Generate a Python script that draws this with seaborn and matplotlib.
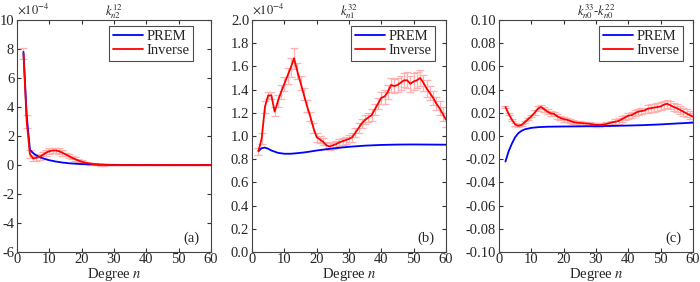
import numpy as np
import pandas as pd
import matplotlib
matplotlib.use("Agg")
import matplotlib.pyplot as plt
import seaborn as sns

# Degrees of the inverted coefficients
degrees = list(range(2, 61))

# Panel (a): k_n2^12 (units of 1e-4)
inv_a = [7.7, 3.0, 0.75, 0.45, 0.5, 0.55, 0.7, 0.85, 0.95, 1.0,
         1.0, 0.95, 0.85, 0.74, 0.62, 0.5, 0.4, 0.31, 0.23, 0.17,
         0.12, 0.08, 0.05, 0.03, 0.02, 0.01] + [0.0] * 33
err_a = [0.4, 0.45, 0.3] + [0.2] * 10 + [0.12] * 6 + [0.06] * 7 + [0.02] * 33
prem_deg_a = [2, 3, 4, 5, 6, 7, 8, 9, 10, 12, 14, 16, 18, 20, 25, 30, 35, 40, 50, 60]
prem_a = [7.8, 3.4, 1.05, 0.82, 0.66, 0.55, 0.46, 0.39, 0.33, 0.24,
          0.17, 0.12, 0.09, 0.06, 0.03, 0.01, 0.005, 0.0, 0.0, 0.0]

# Panel (b): k_n1^32 (units of 1e-4)
inv_b = [0.87, 0.98, 1.25, 1.35, 1.35, 1.21, 1.30, 1.38, 1.45, 1.52,
         1.59, 1.67, 1.56, 1.46, 1.36, 1.26, 1.17, 1.07, 0.99, 0.97,
         0.95, 0.92, 0.91, 0.92, 0.93, 0.945, 0.955, 0.965, 0.975, 0.99,
         1.03, 1.07, 1.11, 1.14, 1.16, 1.18, 1.23, 1.28, 1.33, 1.34,
         1.38, 1.44, 1.43, 1.44, 1.46, 1.48, 1.48, 1.45, 1.47, 1.48,
         1.50, 1.46, 1.41, 1.37, 1.33, 1.28, 1.24, 1.19, 1.14]
err_b = [0.03, 0.05, 0.05, 0.03, 0.03, 0.04, 0.05, 0.06, 0.06, 0.07,
         0.08, 0.09, 0.07, 0.06, 0.05, 0.05, 0.04, 0.04, 0.04, 0.03,
         0.03, 0.03, 0.03, 0.03, 0.03, 0.03, 0.03, 0.03, 0.03, 0.04,
         0.04, 0.04, 0.04, 0.04, 0.04, 0.05, 0.05, 0.05, 0.05, 0.06,
         0.06, 0.06, 0.06, 0.06, 0.06, 0.06, 0.07, 0.07, 0.07, 0.07,
         0.07, 0.07, 0.07, 0.06, 0.06, 0.06, 0.06, 0.06, 0.06]
prem_deg_b = [2, 3, 4, 5, 6, 8, 10, 12, 14, 16, 18, 20, 25, 30, 35, 40, 45, 50, 55, 60]
prem_b = [0.87, 0.895, 0.90, 0.89, 0.875, 0.855, 0.847, 0.847, 0.852, 0.858,
          0.866, 0.875, 0.893, 0.907, 0.917, 0.923, 0.926, 0.927, 0.926, 0.925]

# Panel (c): k_n0^33 - k_n0^22
inv_c = [0.025, 0.019, 0.014, 0.010, 0.0088, 0.0095, 0.012, 0.0145, 0.017, 0.020,
         0.0235, 0.025, 0.023, 0.021, 0.0195, 0.019, 0.017, 0.0155, 0.0145, 0.014,
         0.013, 0.012, 0.0115, 0.0113, 0.011, 0.0108, 0.0105, 0.010, 0.0096, 0.0095,
         0.0097, 0.0102, 0.011, 0.0118, 0.0123, 0.013, 0.0145, 0.016, 0.0175, 0.018,
         0.0195, 0.021, 0.0215, 0.022, 0.0235, 0.024, 0.0245, 0.025, 0.0255, 0.027,
         0.0278, 0.0265, 0.025, 0.024, 0.0225, 0.021, 0.0195, 0.018, 0.0167]
err_c = [0.001] * 9 + [0.002] * 10 + [0.0015] * 15 + [0.0025] * 10 + [0.0035] * 15
prem_deg_c = [2, 3, 4, 5, 6, 7, 8, 10, 12, 15, 20, 25, 30, 35, 40, 45, 50, 55, 60]
prem_c = [-0.022, -0.013, -0.0065, -0.001, 0.0025, 0.0045, 0.0058, 0.0070, 0.0076, 0.008,
          0.0082, 0.0083, 0.0085, 0.0087, 0.009, 0.0094, 0.010, 0.0108, 0.0115]

sns.set_theme(style="ticks")
plt.rcParams["font.family"] = ["Liberation Serif", "DejaVu Serif"]
plt.rcParams["mathtext.fontset"] = "stix"
plt.rcParams["axes.unicode_minus"] = False

fig = plt.figure(figsize=(7.0, 2.82), dpi=100)

panels = [
    dict(inv=inv_a, err=err_a, pdeg=prem_deg_a, prem=prem_a,
         title=r"$k_{n2}^{12}$", ylim=(-6, 10), yticks=np.arange(-6, 11, 2),
         fmt="{:.0f}", offset=True, label="(a)", left=17, legx=0.907),
    dict(inv=inv_b, err=err_b, pdeg=prem_deg_b, prem=prem_b,
         title=r"$k_{n1}^{32}$", ylim=(0, 2), yticks=np.arange(0, 2.01, 0.2),
         fmt="{:.1f}", offset=True, label="(b)", left=252, legx=0.943),
    dict(inv=inv_c, err=err_c, pdeg=prem_deg_c, prem=prem_c,
         title=r"$k_{n0}^{33}$-$k_{n0}^{22}$", ylim=(-0.1, 0.1),
         yticks=np.arange(-0.1, 0.101, 0.02), fmt="{:.2f}", offset=False,
         label="(c)", left=499, legx=0.948),
]

for p in panels:
    ax = fig.add_axes([p["left"] / 700, 30 / 282, 194 / 700, 232 / 282])
    ax.errorbar(degrees, p["inv"], yerr=p["err"], fmt="none", ecolor="#ffb0b0",
                elinewidth=0.9, capsize=3, capthick=0.9, zorder=1)
    df_prem = pd.DataFrame({"n": p["pdeg"], "v": p["prem"]})
    df_inv = pd.DataFrame({"n": degrees, "v": p["inv"]})
    sns.lineplot(data=df_prem, x="n", y="v", ax=ax, color="#0000ff", lw=1.3,
                 label="PREM", zorder=3)
    sns.lineplot(data=df_inv, x="n", y="v", ax=ax, color="#ff0000", lw=1.3,
                 label="Inverse", zorder=4)
    ax.set_xlim(0, 60)
    ax.set_ylim(*p["ylim"])
    ax.set_xticks(range(0, 61, 10))
    ax.set_yticks(p["yticks"])
    ax.set_yticklabels([p["fmt"].format(v) if abs(v) > 1e-9 else p["fmt"].format(0) for v in p["yticks"]])
    ax.tick_params(direction="in", top=True, right=True, length=3, width=0.8,
                   labelsize=10.5, color="#333333")
    ax.tick_params(axis="x", pad=1)
    ax.tick_params(axis="y", pad=2)
    for s in ax.spines.values():
        s.set_color("#444444")
        s.set_linewidth(0.8)
    ax.set_xlabel(r"Degree $n$", fontsize=10.5, labelpad=0)
    ax.set_ylabel("")
    ax.set_title(p["title"], fontsize=9, pad=3)
    if p["offset"]:
        ax.text(0.0, 1.015, r"$\times10^{-4}$", transform=ax.transAxes,
                fontsize=9, ha="left", va="bottom")
    ax.text(0.943, 0.03, p["label"], transform=ax.transAxes, fontsize=10.5,
            ha="right", va="bottom")
    leg = ax.legend(loc="upper right", bbox_to_anchor=(p["legx"], 0.972),
                    fontsize=10.5, frameon=True, fancybox=False, handlelength=2.1,
                    borderpad=0.25, labelspacing=0.05, handletextpad=0.2,
                    borderaxespad=0.0)
    leg.get_frame().set_edgecolor("#222222")
    leg.get_frame().set_linewidth(0.8)

fig.savefig("out.png", dpi=100)
